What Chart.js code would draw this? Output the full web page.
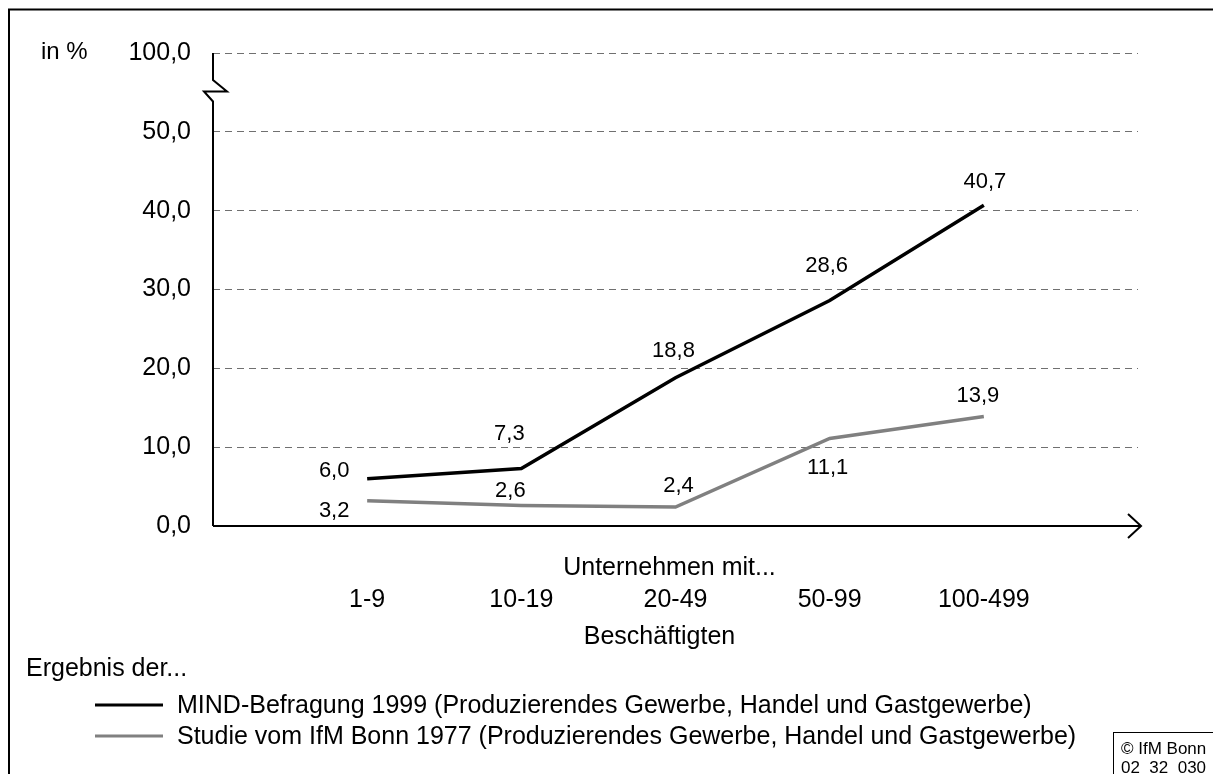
<!DOCTYPE html>
<html lang="de">
<head>
<meta charset="utf-8">
<title>Unternehmen mit ... Beschäftigten</title>
<script src="https://cdn.jsdelivr.net/npm/chart.js@4/dist/chart.umd.min.js"></script>
<style>
    html, body { margin: 0; padding: 0; background: #fff; }
    canvas { display: block; }
</style>
</head>
<body>
<canvas id="chart" width="1213" height="774"></canvas>
<script>
// Werte der beiden Erhebungen je Größenklasse (in %)
const categories = ['1-9', '10-19', '20-49', '50-99', '100-499'];
const mindValues = [6.0, 7.3, 18.8, 28.6, 40.7];
const ifmValues = [3.2, 2.6, 2.4, 11.1, 13.9];
const seriesNames = [
    'MIND-Befragung 1999 (Produzierendes Gewerbe, Handel und Gastgewerbe)',
    'Studie vom IfM Bonn 1977 (Produzierendes Gewerbe, Handel und Gastgewerbe)'
];
// Achse mit Bruch: der oberste Strich steht für 100,0
const yTicks = [0, 10, 20, 30, 40, 50, 60];
const yTickLabels = ['0,0', '10,0', '20,0', '30,0', '40,0', '50,0', '100,0'];

const FONT = '"Liberation Sans", Arial, sans-serif';
const BLACK = '#000000';
const GREY = '#808080';

// Versatz der Wertbeschriftungen relativ zum Punkt
const labelOffsets = [
    [[-33, -8], [-12, -35], [-2, -27], [-3, -35], [1, -23]],
    [[-33, 10], [-11, -15], [3, -21], [-2, 29], [-6, -20]]
];

function fmt(v) {
    return v.toFixed(1).replace('.', ',');
}

function toPoints(values) {
    return values.map((v, i) => ({ x: i + 1, y: v }));
}

// Achsen, Bruchzeichen, Beschriftungen, Legende und Rahmen
const decorations = {
    id: 'decorations',
    afterDatasetsDraw(chart) {
        const ctx = chart.ctx;
        const area = chart.chartArea;
        const x = chart.scales.x;
        const y = chart.scales.y;
        const x0 = area.left;
        const y0 = y.getPixelForValue(0);

        ctx.save();
        ctx.strokeStyle = BLACK;
        ctx.lineWidth = 2;
        ctx.lineJoin = 'miter';

        // y-Achse mit Bruch zwischen 50 und 100
        ctx.beginPath();
        ctx.moveTo(x0, area.top);
        ctx.lineTo(x0, 80);
        ctx.lineTo(x0 + 14, 91.5);
        ctx.lineTo(x0 - 9, 91.5);
        ctx.lineTo(x0, 101.5);
        ctx.lineTo(x0, y0);
        ctx.stroke();

        // x-Achse mit Pfeil
        const xEnd = area.right + 3;
        ctx.beginPath();
        ctx.moveTo(x0, y0);
        ctx.lineTo(xEnd, y0);
        ctx.stroke();
        ctx.beginPath();
        ctx.moveTo(xEnd - 13, y0 - 12);
        ctx.lineTo(xEnd, y0);
        ctx.lineTo(xEnd - 13, y0 + 12);
        ctx.stroke();

        // Wertbeschriftungen
        ctx.fillStyle = BLACK;
        ctx.font = '22px ' + FONT;
        ctx.textAlign = 'center';
        ctx.textBaseline = 'middle';
        chart.data.datasets.forEach((ds, d) => {
            ds.data.forEach((p, i) => {
                const px = x.getPixelForValue(p.x) + labelOffsets[d][i][0];
                const py = y.getPixelForValue(p.y) + labelOffsets[d][i][1];
                ctx.fillText(fmt(p.y), px, py);
            });
        });

        // Einheit und Achsentitel
        ctx.font = '24px ' + FONT;
        ctx.textAlign = 'left';
        ctx.fillText('in %', 41, 52);
        ctx.font = '25px ' + FONT;
        ctx.textAlign = 'center';
        const mid = x.getPixelForValue(3);
        ctx.fillText('Unternehmen mit...', mid - 6, 568);
        ctx.fillText('Beschäftigten', mid - 16, 637);

        // Legende
        ctx.textAlign = 'left';
        ctx.fillText('Ergebnis der...', 26, 669);
        chart.data.datasets.forEach((ds, d) => {
            const ly = 705 + d * 31;
            ctx.strokeStyle = ds.borderColor;
            ctx.lineWidth = 3;
            ctx.beginPath();
            ctx.moveTo(95, ly);
            ctx.lineTo(163, ly);
            ctx.stroke();
            ctx.fillText(ds.label, 177, ly + 1);
        });

        // Quellenkasten
        ctx.strokeStyle = BLACK;
        ctx.lineWidth = 1;
        ctx.strokeRect(1113.5, 732.5, 120, 60);
        ctx.font = '17px ' + FONT;
        ctx.fillText('© IfM Bonn', 1121, 749);
        ctx.fillText('02  32  030', 1121, 768);

        // äußerer Rahmen
        ctx.lineWidth = 2;
        ctx.strokeRect(9, 9.5, 1230, 800);
        ctx.restore();
    }
};

new Chart(document.getElementById('chart').getContext('2d'), {
    type: 'line',
    data: {
        datasets: [{
            label: seriesNames[0],
            data: toPoints(mindValues),
            borderColor: BLACK,
            borderWidth: 3.5,
            pointRadius: 0,
            tension: 0
        }, {
            label: seriesNames[1],
            data: toPoints(ifmValues),
            borderColor: GREY,
            borderWidth: 3.5,
            pointRadius: 0,
            tension: 0
        }]
    },
    options: {
        responsive: false,
        animation: false,
        devicePixelRatio: 1,
        layout: {
            padding: { left: 0, right: 75, top: 53, bottom: 0 }
        },
        plugins: {
            legend: { display: false },
            tooltip: { enabled: false }
        },
        scales: {
            x: {
                type: 'linear',
                min: 0,
                max: categories.length + 1,
                afterFit(scale) { scale.height = 248; },
                afterBuildTicks(scale) {
                    scale.ticks = categories.map((c, i) => ({ value: i + 1 }));
                },
                ticks: {
                    callback: (v) => categories[v - 1],
                    color: BLACK,
                    font: { family: FONT, size: 25 },
                    padding: 59,
                    maxRotation: 0,
                    autoSkip: false
                },
                grid: { display: false, drawTicks: false },
                border: { display: false }
            },
            y: {
                min: 0,
                max: 60,
                afterFit(scale) { scale.width = 213; },
                afterBuildTicks(scale) {
                    scale.ticks = yTicks.map((v) => ({ value: v }));
                },
                ticks: {
                    callback: (v) => yTickLabels[yTicks.indexOf(v)],
                    color: BLACK,
                    font: { family: FONT, size: 25 },
                    padding: 22,
                    autoSkip: false
                },
                grid: {
                    drawTicks: false,
                    color: (c) => c.tick && c.tick.value === 0 ? 'rgba(0,0,0,0)' : '#707070',
                    lineWidth: 1
                },
                border: { display: false, dash: [7, 5] }
            }
        }
    },
    plugins: [decorations]
});
</script>
</body>
</html>
